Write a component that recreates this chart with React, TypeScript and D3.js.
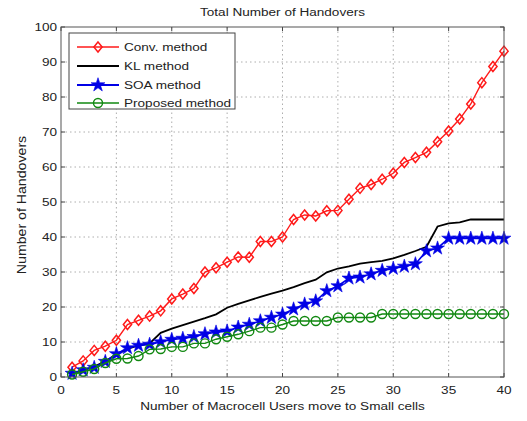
import React from "react";
import * as d3 from "d3";

const xs = d3.range(1, 41);
const convMethod = [2.8, 4.6, 7.6, 8.8, 10.5, 15, 16.2, 17.4, 18.9, 22.3, 23.7, 25.3, 30, 31.2, 32.8, 34.3, 34.2, 38.7, 38.7, 40, 45, 46.3, 46, 47.5, 47.6, 50.8, 53.9, 55, 56.5, 58.2, 61.3, 62.7, 64.2, 67.2, 70.3, 73.7, 78, 84.1, 88.7, 93.1];
const klMethod = [1, 2, 3, 4.5, 6.5, 8, 9, 9.6, 12.6, 13.8, 14.8, 15.8, 16.8, 17.9, 19.8, 20.9, 21.9, 22.9, 23.8, 24.7, 25.7, 26.8, 27.8, 29.9, 31, 31.6, 32.4, 32.8, 33.2, 33.9, 34.9, 36, 37.2, 43, 43.9, 44.2, 45, 45, 45, 45];
const soaMethod = [1, 2, 2.7, 4.4, 6.6, 8.3, 9, 9.3, 10, 10.7, 11, 11.5, 12.3, 12.8, 13.1, 14.2, 15, 16, 17, 17.9, 19.4, 20.8, 21.7, 24.6, 26, 28.2, 28.5, 29.4, 30.4, 31, 31.6, 32.3, 36, 36.8, 39.6, 39.6, 39.6, 39.6, 39.6, 39.6];
const proposedMethod = [0.7, 1.5, 2.3, 4, 5.2, 5.3, 6, 7.9, 8, 8.6, 8.6, 9.6, 9.6, 10.8, 11.5, 12.2, 13.1, 14.1, 14.1, 15, 16, 16, 16, 16, 17, 17, 17, 17, 18, 18, 18, 18, 18, 18, 18, 18, 18, 18, 18, 18];

const xTicks = [0, 5, 10, 15, 20, 25, 30, 35, 40];
const yTicks = [0, 10, 20, 30, 40, 50, 60, 70, 80, 90, 100];
const legendLabels = ["Conv. method", "KL method", "SOA method", "Proposed method"];
const titleText = "Total Number of Handovers";
const xLabel = "Number of Macrocell Users move to Small cells";
const yLabel = "Number of Handovers";

const W = 527, H = 421;
const L = 61, R = 504, T = 27, B = 377;
const SX = 1.18;
const FS = 11.5;
const FONT = "'Liberation Sans', Arial, sans-serif";

function Txt({ x, y, anchor = "middle", size = FS, children }: any) {
  return (
    <g transform={`translate(${x},${y}) scale(${SX},1)`}>
      <text x={0} y={0} textAnchor={anchor} dominantBaseline="central" fontFamily={FONT} fontSize={size} fill="#222">
        {children}
      </text>
    </g>
  );
}

export default function App() {
  const x = d3.scaleLinear().domain([0, 40]).range([L, R]);
  const y = d3.scaleLinear().domain([0, 100]).range([B, T]);
  const line = (vals: number[]) =>
    d3.line<number>().x((_, i) => x(xs[i])).y((v) => y(v))(vals) || "";
  const diamondType = {
    draw(ctx: any, size: number) {
      const r = Math.sqrt(size / 2);
      ctx.moveTo(0, -r * 1.1);
      ctx.lineTo(r * 0.9, 0);
      ctx.lineTo(0, r * 1.1);
      ctx.lineTo(-r * 0.9, 0);
      ctx.closePath();
    },
  };
  const diamond = d3.symbol().type(diamondType as any).size(42)() || "";
  const star = d3.symbol().type(d3.symbolStar).size(60)() || "";

  const series = [
    { vals: convMethod, color: "#ff1a1a", width: 1.4, marker: "diamond" },
    { vals: klMethod, color: "#000000", width: 1.8, marker: "none" },
    { vals: soaMethod, color: "#0000e6", width: 1.6, marker: "star" },
    { vals: proposedMethod, color: "#118811", width: 1.4, marker: "circle" },
  ];

  const drawMarker = (m: string, cx: number, cy: number, color: string, key: any) => {
    if (m === "diamond")
      return <path key={key} d={diamond} transform={`translate(${cx},${cy})`} fill="none" stroke={color} strokeWidth={1.5} />;
    if (m === "star")
      return <path key={key} d={star} transform={`translate(${cx},${cy})`} fill={color} stroke={color} strokeWidth={0.6} />;
    if (m === "circle")
      return <circle key={key} cx={cx} cy={cy} r={4.5} fill="none" stroke={color} strokeWidth={1.4} />;
    return null;
  };

  const legendY = [47, 66, 85, 103];

  return (
    <svg width={W} height={H} style={{ position: "absolute", left: 0, top: 0, background: "#fff" }}>
      <rect x={0} y={0} width={W} height={H} fill="#fff" />
      <rect x={L} y={T} width={R - L} height={B - T} fill="#fff" />
      {/* grid */}
      {xTicks.slice(1, -1).map((t) => (
        <line key={"gx" + t} x1={x(t)} x2={x(t)} y1={T} y2={B} stroke="#999" strokeWidth={0.8} strokeDasharray="1.5,3" />
      ))}
      {yTicks.slice(1, -1).map((t) => (
        <line key={"gy" + t} x1={L} x2={R} y1={y(t)} y2={y(t)} stroke="#999" strokeWidth={0.8} strokeDasharray="1.5,3" />
      ))}
      {/* ticks */}
      {xTicks.map((t) => (
        <g key={"tx" + t}>
          <line x1={x(t)} x2={x(t)} y1={B} y2={B - 4} stroke="#444" />
          <line x1={x(t)} x2={x(t)} y1={T} y2={T + 4} stroke="#444" />
          <Txt x={x(t)} y={B + 13}>{t}</Txt>
        </g>
      ))}
      {yTicks.map((t) => (
        <g key={"ty" + t}>
          <line x1={L} x2={L + 4} y1={y(t)} y2={y(t)} stroke="#444" />
          <line x1={R} x2={R - 4} y1={y(t)} y2={y(t)} stroke="#444" />
          <Txt x={L - 4} y={y(t)} anchor="end">{t}</Txt>
        </g>
      ))}
      {/* series */}
      {series.map((s, si) => (
        <g key={"s" + si}>
          <path d={line(s.vals)} fill="none" stroke={s.color} strokeWidth={s.width} />
          {s.vals.map((v, i) => drawMarker(s.marker, x(xs[i]), y(v), s.color, i))}
        </g>
      ))}
      <rect x={L} y={T} width={R - L} height={B - T} fill="none" stroke="#555" strokeWidth={1} />
      {/* legend */}
      <rect x={69} y={33} width={166} height={76} fill="#fff" stroke="#444" strokeWidth={1} />
      {series.map((s, i) => (
        <g key={"lg" + i}>
          <line x1={77} x2={119} y1={legendY[i]} y2={legendY[i]} stroke={s.color} strokeWidth={s.width + 0.3} />
          {drawMarker(s.marker, 98, legendY[i], s.color, "m")}
          <Txt x={124} y={legendY[i]} anchor="start">{legendLabels[i]}</Txt>
        </g>
      ))}
      {/* labels */}
      <Txt x={(L + R) / 2} y={12}>{titleText}</Txt>
      <Txt x={(L + R) / 2} y={406}>{xLabel}</Txt>
      <g transform={`translate(21.5,205) rotate(-90) scale(1.18,1)`}>
        <text x={0} y={0} textAnchor="middle" dominantBaseline="central" fontFamily={FONT} fontSize={12} fill="#222">
          {yLabel}
        </text>
      </g>
    </svg>
  );
}
